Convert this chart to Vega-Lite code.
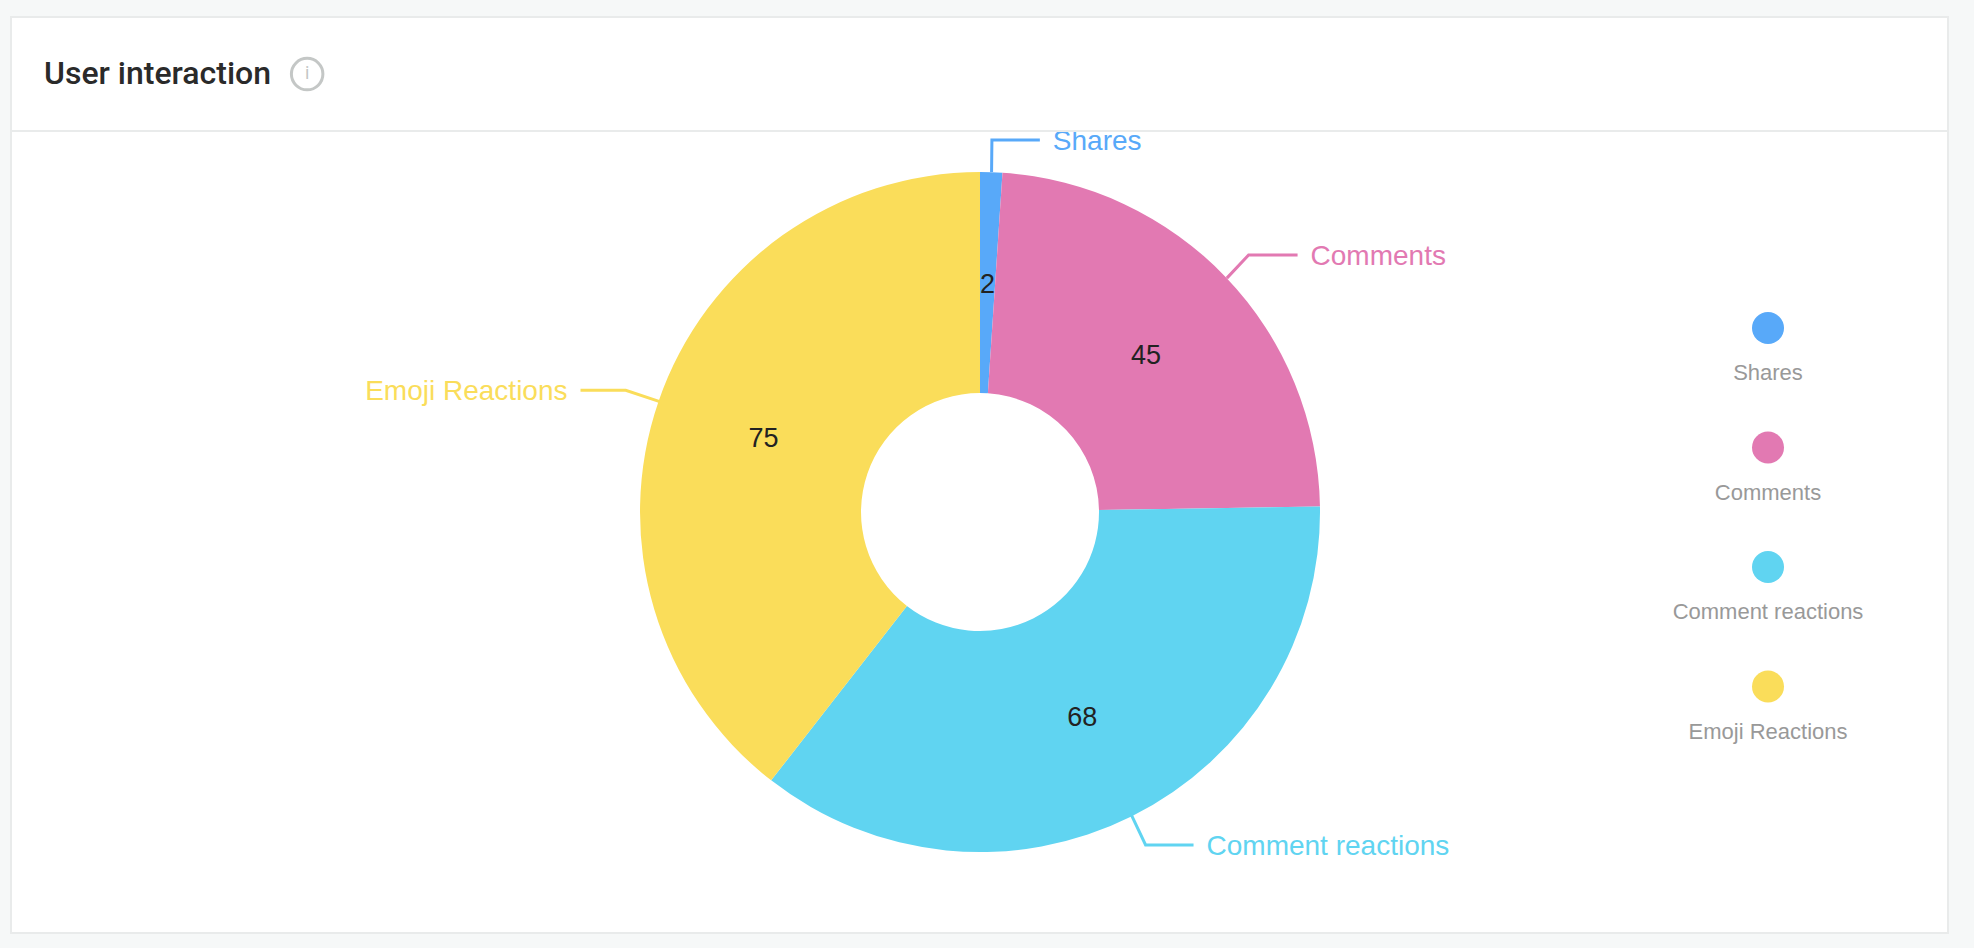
{
  "$schema": "https://vega.github.io/schema/vega-lite/v6.json",
  "width": 1937,
  "height": 916,
  "autosize": "none",
  "padding": {"left": 11, "top": 17, "right": 26, "bottom": 15},
  "background": "#f6f8f8",
  "title": {
    "text": "User interaction",
    "anchor": "start",
    "frame": "group",
    "orient": "top",
    "offset": -68,
    "dx": 33,
    "dy": 32,
    "baseline": "alphabetic",
    "font": "Roboto",
    "fontSize": 32,
    "fontWeight": 500,
    "color": "#2a2a2a"
  },
  "datasets": {
    "slices": [
      {"name": "Shares", "value": 2},
      {"name": "Comments", "value": 45},
      {"name": "Comment reactions", "value": 68},
      {"name": "Emoji Reactions", "value": 75}
    ],
    "leaders": [
      {"name": "Shares", "step": 1, "u": 0.034, "v": 1.0},
      {"name": "Shares", "step": 2, "u": 0.035, "v": 1.094},
      {"name": "Shares", "step": 3, "u": 0.176, "v": 1.094},
      {"name": "Comments", "step": 1, "u": 0.726, "v": 0.688},
      {"name": "Comments", "step": 2, "u": 0.79, "v": 0.756},
      {"name": "Comments", "step": 3, "u": 0.934, "v": 0.756},
      {"name": "Comment reactions", "step": 1, "u": 0.443, "v": -0.886},
      {"name": "Comment reactions", "step": 2, "u": 0.487, "v": -0.979},
      {"name": "Comment reactions", "step": 3, "u": 0.628, "v": -0.979},
      {"name": "Emoji Reactions", "step": 1, "u": -0.942, "v": 0.325},
      {"name": "Emoji Reactions", "step": 2, "u": -1.042, "v": 0.358},
      {"name": "Emoji Reactions", "step": 3, "u": -1.175, "v": 0.358}
    ]
  },
  "layer": [
    {
      "data": {"name": "slices"},
      "mark": {"type": "arc", "innerRadius": 119, "outerRadius": 340},
      "encoding": {
        "x": {"datum": 0, "type": "quantitative", "scale": {"domain": [-2.85, 2.847], "nice": false, "zero": false}, "axis": null},
        "y": {"datum": 0, "type": "quantitative", "scale": {"domain": [-1.238, 1.456], "nice": false, "zero": false}, "axis": null},
        "theta": {"field": "value", "type": "quantitative", "stack": true},
        "order": {"field": "value", "type": "quantitative", "sort": "ascending"},
        "color": {
          "field": "name",
          "type": "nominal",
          "scale": {
            "domain": ["Shares", "Comments", "Comment reactions", "Emoji Reactions"],
            "range": ["#58a9f9", "#e279b2", "#60d4f1", "#fadd5a"]
          },
          "legend": {
            "orient": "none",
            "legendX": 1741,
            "legendY": 295,
            "title": null,
            "padding": 0,
            "symbolType": "circle",
            "symbolSize": 1024,
            "symbolStrokeWidth": 0,
            "symbolOpacity": 1,
            "rowPadding": 47.5,
            "labelAlign": "center",
            "labelOffset": -16,
            "labelFont": "Liberation Sans",
            "labelFontSize": 22,
            "labelColor": "#999999",
            "labelLimit": 400,
            "encoding": {"labels": {"dy": {"value": 45}}}
          }
        }
      }
    },
    {
      "data": {"name": "slices"},
      "mark": {"type": "text", "radius": 229, "dy": 1.5, "font": "Liberation Sans", "fontSize": 27, "color": "#222222"},
      "encoding": {
        "x": {"datum": 0, "type": "quantitative", "axis": null},
        "y": {"datum": 0, "type": "quantitative", "axis": null},
        "theta": {"field": "value", "type": "quantitative", "stack": true},
        "order": {"field": "value", "type": "quantitative", "sort": "ascending"},
        "detail": {"field": "name"},
        "text": {"field": "value", "type": "quantitative"}
      }
    },
    {
      "data": {"name": "leaders"},
      "mark": {"type": "line", "strokeWidth": 3, "interpolate": "linear"},
      "encoding": {
        "x": {"field": "u", "type": "quantitative", "axis": null},
        "y": {"field": "v", "type": "quantitative", "axis": null},
        "order": {"field": "step"},
        "color": {"field": "name", "type": "nominal", "legend": null}
      }
    },
    {
      "data": {"name": "leaders"},
      "transform": [{"filter": "datum.step == 3 && datum.name != 'Emoji Reactions'"}],
      "mark": {"type": "text", "align": "left", "dx": 13, "dy": 2, "font": "Liberation Sans", "fontSize": 28},
      "encoding": {
        "x": {"field": "u", "type": "quantitative", "axis": null},
        "y": {"field": "v", "type": "quantitative", "axis": null},
        "text": {"field": "name"},
        "color": {"field": "name", "type": "nominal", "legend": null}
      }
    },
    {
      "data": {"name": "leaders"},
      "transform": [{"filter": "datum.step == 3 && datum.name == 'Emoji Reactions'"}],
      "mark": {"type": "text", "align": "right", "dx": -13, "dy": 2, "font": "Liberation Sans", "fontSize": 28},
      "encoding": {
        "x": {"field": "u", "type": "quantitative", "axis": null},
        "y": {"field": "v", "type": "quantitative", "axis": null},
        "text": {"field": "name"},
        "color": {"field": "name", "type": "nominal", "legend": null}
      }
    },
    {
      "data": {"values": [{"part": "header"}]},
      "mark": {"type": "rect", "fill": "#ffffff", "stroke": "#e9ebeb", "strokeWidth": 2},
      "encoding": {
        "x": {"datum": -2.85, "type": "quantitative", "axis": null},
        "x2": {"datum": 2.847},
        "y": {"datum": 1.121, "type": "quantitative", "axis": null},
        "y2": {"datum": 1.456}
      }
    },
    {
      "data": {"values": [{"part": "info"}]},
      "mark": {"type": "point", "shape": "circle", "filled": false, "size": 992, "stroke": "#c4c7c6", "strokeWidth": 3, "opacity": 1},
      "encoding": {
        "x": {"datum": -1.979, "type": "quantitative", "axis": null},
        "y": {"datum": 1.288, "type": "quantitative", "axis": null}
      }
    },
    {
      "data": {"values": [{"part": "info"}]},
      "mark": {"type": "text", "text": "i", "font": "Roboto", "fontSize": 18, "color": "#c4c7c6"},
      "encoding": {
        "x": {"datum": -1.979, "type": "quantitative", "axis": null},
        "y": {"datum": 1.288, "type": "quantitative", "axis": null}
      }
    }
  ],
  "config": {"view": {"fill": "#ffffff", "stroke": "#e9ebeb", "strokeWidth": 2}}
}
